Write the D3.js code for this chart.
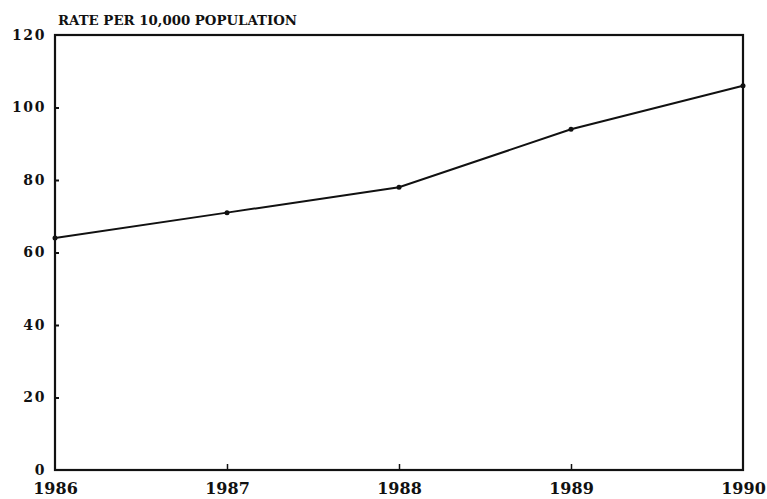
<!DOCTYPE html>
<html>
<head>
<meta charset="utf-8">
<script src="https://cdn.jsdelivr.net/npm/d3@7"></script>
<style>
  html, body { margin: 0; padding: 0; background: #fff; }
  svg { display: block; }
  text { font-family: "DejaVu Serif", "Liberation Serif", serif; font-weight: bold; fill: #111; }
</style>
</head>
<body>
<svg id="chart" width="767" height="499"></svg>
<script>
// Yearly rate per 10,000 population
const years = [1986, 1987, 1988, 1989, 1990];
const rates = [64, 71, 78, 94, 106];
const yTicks = [0, 20, 40, 60, 80, 100, 120];
const titleText = "RATE PER 10,000 POPULATION";

const width = 767, height = 499;
const margin = { top: 35, right: 24, bottom: 29, left: 55 };

const svg = d3.select("#chart");

const x = d3.scaleLinear()
  .domain([years[0], years[years.length - 1]])
  .range([margin.left, width - margin.right]);

const y = d3.scaleLinear()
  .domain([0, 120])
  .range([height - margin.bottom, margin.top]);

const ink = "#111";

// Plot frame
svg.append("rect")
  .attr("x", x.range()[0])
  .attr("y", y.range()[1])
  .attr("width", x.range()[1] - x.range()[0])
  .attr("height", y.range()[0] - y.range()[1])
  .attr("fill", "none")
  .attr("stroke", ink)
  .attr("stroke-width", 2.2);

// Left axis: short inward ticks, labels outside
const yAxis = d3.axisLeft(y).tickValues(yTicks).tickSize(0).tickPadding(9);
const gy = svg.append("g")
  .attr("transform", `translate(${margin.left},0)`)
  .call(yAxis);
gy.select(".domain").remove();
gy.selectAll(".tick text")
  .attr("font-size", 14)
  .attr("letter-spacing", 1.6)
  .attr("fill", ink)
  .attr("font-family", "DejaVu Serif");
gy.selectAll(".tick")
  .filter(d => d > 0 && d < 120)
  .append("line")
  .attr("x1", 0).attr("x2", 4)
  .attr("stroke", ink).attr("stroke-width", 2);

// Bottom axis: years, short upward ticks at interior years
const xAxis = d3.axisBottom(x).tickValues(years).tickFormat(d3.format("d")).tickSize(0).tickPadding(13);
const gx = svg.append("g")
  .attr("transform", `translate(0,${height - margin.bottom})`)
  .call(xAxis);
gx.select(".domain").remove();
gx.selectAll(".tick text")
  .attr("font-size", 16)
  .attr("fill", ink)
  .attr("font-family", "DejaVu Serif");
gx.selectAll(".tick")
  .filter((d, i) => i > 0 && i < years.length - 1)
  .append("line")
  .attr("y1", 0).attr("y2", -6)
  .attr("stroke", ink).attr("stroke-width", 1.5);

// Title above the plot
svg.append("text")
  .attr("x", 58)
  .attr("y", 25)
  .attr("font-size", 12.5)
  .attr("textLength", 239)
  .attr("lengthAdjust", "spacingAndGlyphs")
  .text(titleText);

// Data line
const pts = years.map((yr, i) => [yr, rates[i]]);
const line = d3.line().x(d => x(d[0])).y(d => y(d[1]));
svg.append("path")
  .datum(pts)
  .attr("d", line)
  .attr("fill", "none")
  .attr("stroke", ink)
  .attr("stroke-width", 2);

svg.selectAll("circle.pt")
  .data(pts)
  .join("circle")
  .attr("class", "pt")
  .attr("cx", d => x(d[0]))
  .attr("cy", d => y(d[1]))
  .attr("r", 2.5)
  .attr("fill", ink);
</script>
</body>
</html>
